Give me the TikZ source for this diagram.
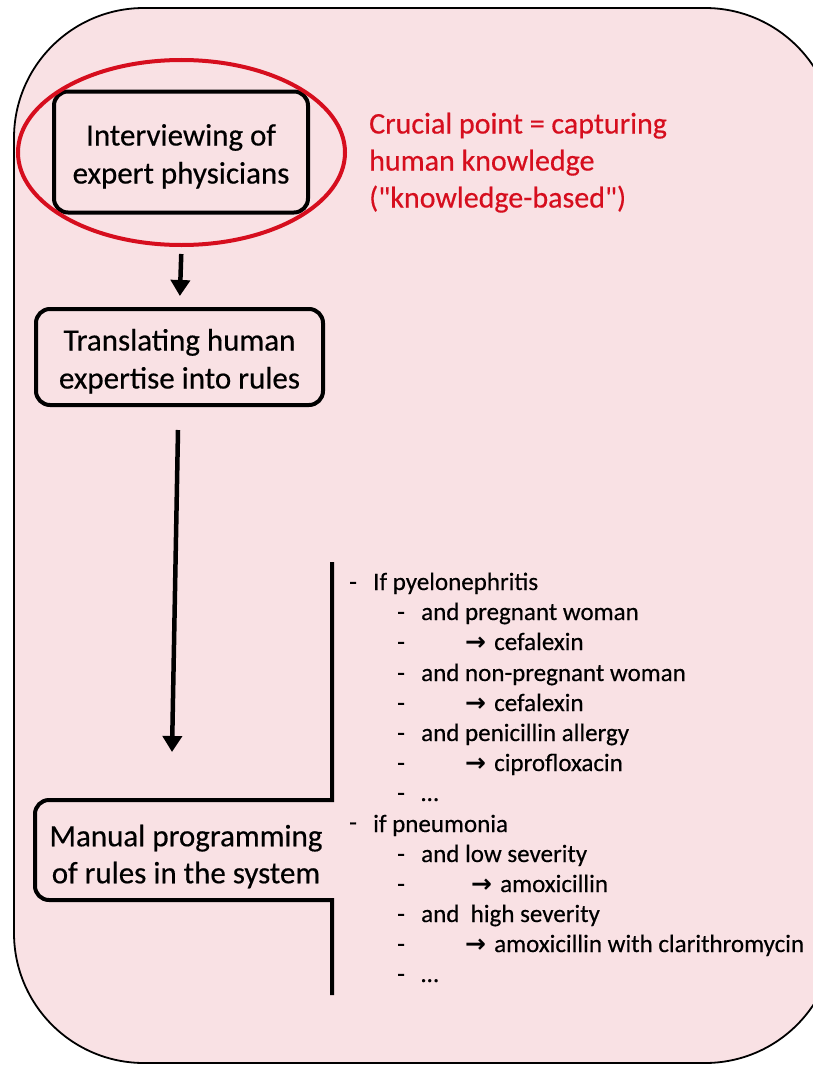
\documentclass[tikz,border=0pt]{standalone}
\usepackage{fontspec}
\setmainfont{Carlito}[FakeBold=0.4]
% same face without the TeX quote mapping, so that " stays a straight quote
\newfontfamily\alertfont{Carlito}[FakeBold=0.4]
\newfontfamily\arrowfont{DejaVu Sans}
\usetikzlibrary{arrows.meta,shapes.geometric,calc}
\definecolor{panelpink}{RGB}{249,225,228}
\definecolor{alertred}{RGB}{214,14,30}
\begin{document}
\begin{tikzpicture}[x=1pt,y=-1pt,
  stepbox/.style={draw, line width=4pt, rounded corners=14pt, align=center,
    font=\fontsize{31}{38}\selectfont, inner sep=0pt},
  flow/.style={line width=4.5pt, -{Triangle[length=16pt,width=19pt]}},
  rule/.style={anchor=base west, inner sep=0pt, font=\fontsize{25}{30}\selectfont},
  darrow/.style={anchor=base west, inner sep=0pt, font=\fontsize{25}{30}\arrowfont\bfseries},
]
\useasboundingbox (0,0) rectangle (813,1065);

% background panel
\draw[fill=panelpink, line width=1.8pt, rounded corners=130pt] (14,8) rectangle (835,1063);

% first step, circled in red (the zero-width rule lowers the two lines a little)
\node[stepbox, minimum width=254pt, minimum height=121pt] (interview) at (181,152)
  {\rule{0pt}{30pt}Interviewing of\\expert physicians};
\node[draw=alertred, line width=4pt, ellipse, minimum width=327pt, minimum height=185pt,
  inner sep=0pt] (focus) at (181.5,152.5) {};
\node[anchor=north west, align=left, text=alertred, inner sep=0pt,
  font=\fontsize{30}{37}\alertfont] (crucial) at (369,112.5)
  {Crucial point = capturing\\human knowledge\\("knowledge-based")};

% second step
\node[stepbox, minimum width=287pt, minimum height=96pt] (translate) at (179.5,357)
  {\rule{0pt}{30pt}Translating human\\expertise into rules};

% third step: open bracket with the rule list on its right
\node[align=center, inner sep=0pt, font=\fontsize{31}{37}\selectfont] (manual) at (186,856.5)
  {Manual programming\\of rules in the system};
\coordinate (brTop) at (332,562);
\coordinate (brBot) at (332,995);
\draw[line width=4pt] (brTop) -- (332,800) [rounded corners=14pt] -- (35,800) -- (35,900)
  [sharp corners] -- (332,900) -- (brBot);

% connectors
\coordinate (a2end) at (172,752);
\draw[flow, shorten <=7pt, shorten >=11pt] (focus.south) -- (translate.north);
\draw[flow] ([shift={(-1.5,23)}]translate.south) -- (a2end);

% rule list
\node[rule] (d1) at (349,590) {-};
\node[rule] (t1) at (373,590) {If pyelonephritis};
\node[rule] (d2) at (397,620) {-};
\node[rule] (t2) at (421,620) {and pregnant woman};
\node[rule] (d3) at (397,650) {-};
\node[darrow] (a3) at (465,650) {→};
\node[rule] (t3) at (494,650) {cefalexin};
\node[rule] (d4) at (397,681) {-};
\node[rule] (t4) at (421,681) {and non-pregnant woman};
\node[rule] (d5) at (397,711) {-};
\node[darrow] (a5) at (465,711) {→};
\node[rule] (t5) at (494,711) {cefalexin};
\node[rule] (d6) at (397,741) {-};
\node[rule] (t6) at (421,741) {and penicillin allergy};
\node[rule] (d7) at (397,771) {-};
\node[darrow] (a7) at (465,771) {→};
\node[rule] (t7) at (494,771) {ciprofloxacin};
\node[rule] (d8) at (397,801) {-};
\node[rule] (t8) at (421,801) {…};
\node[rule] (d9) at (349,830.5) {-};
\node[rule] (t9) at (373,832) {if pneumonia};
\node[rule] (d10) at (397,862) {-};
\node[rule] (t10) at (421,862) {and low severity};
\node[rule] (d11) at (397,892) {-};
\node[darrow] (a11) at (471,892) {→};
\node[rule] (t11) at (500,892) {amoxicillin};
\node[rule] (d12) at (397,922) {-};
\node[rule] (t12) at (421,922) {and\ \ high severity};
\node[rule] (d13) at (397,952) {-};
\node[darrow] (a13) at (465,952) {→};
\node[rule] (t13) at (494,952) {amoxicillin with clarithromycin};
\node[rule] (d14) at (397,982) {-};
\node[rule] (t14) at (421,982) {…};
\end{tikzpicture}
\end{document}
